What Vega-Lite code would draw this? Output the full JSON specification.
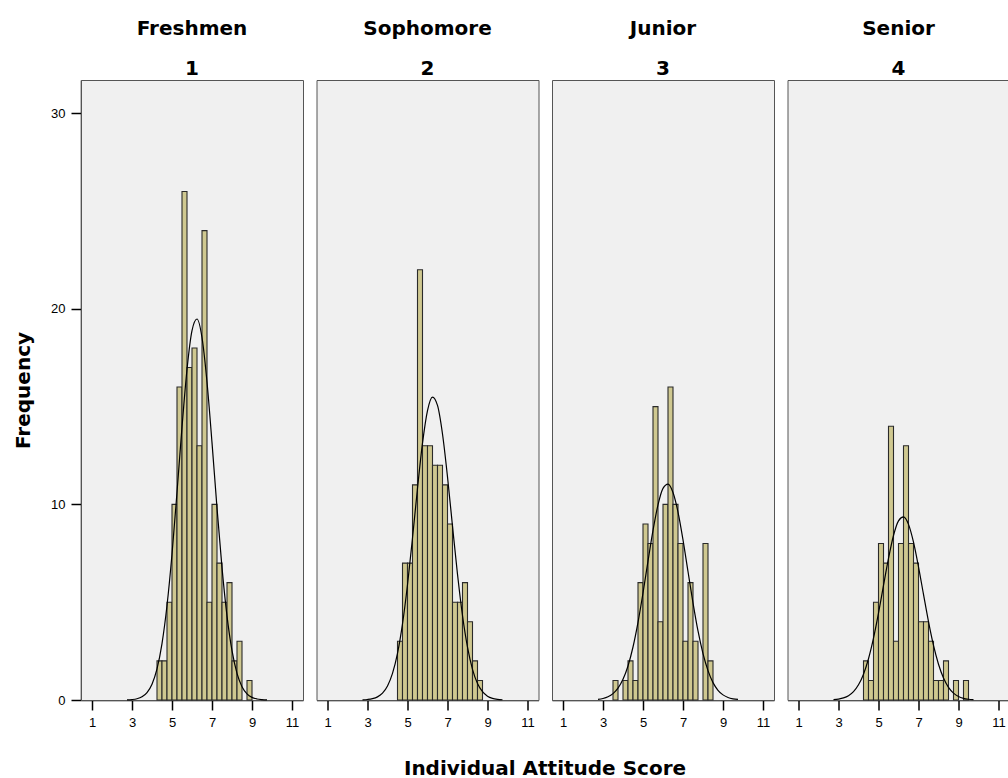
{
  "$schema": "https://vega.github.io/schema/vega-lite/v6.json",
  "padding": {"left": 13, "top": 19, "right": 0, "bottom": 0},
  "background": "white",
  "bounds": "flush",
  "data": {
    "values": [
      {"kind": "bar", "cls": "Freshmen|1", "lo": 4.25, "hi": 4.5, "n": 2},
      {"kind": "bar", "cls": "Freshmen|1", "lo": 4.5, "hi": 4.75, "n": 2},
      {"kind": "bar", "cls": "Freshmen|1", "lo": 4.75, "hi": 5.0, "n": 5},
      {"kind": "bar", "cls": "Freshmen|1", "lo": 5.0, "hi": 5.25, "n": 10},
      {"kind": "bar", "cls": "Freshmen|1", "lo": 5.25, "hi": 5.5, "n": 16},
      {"kind": "bar", "cls": "Freshmen|1", "lo": 5.5, "hi": 5.75, "n": 26},
      {"kind": "bar", "cls": "Freshmen|1", "lo": 5.75, "hi": 6.0, "n": 17},
      {"kind": "bar", "cls": "Freshmen|1", "lo": 6.0, "hi": 6.25, "n": 18},
      {"kind": "bar", "cls": "Freshmen|1", "lo": 6.25, "hi": 6.5, "n": 13},
      {"kind": "bar", "cls": "Freshmen|1", "lo": 6.5, "hi": 6.75, "n": 24},
      {"kind": "bar", "cls": "Freshmen|1", "lo": 6.75, "hi": 7.0, "n": 5},
      {"kind": "bar", "cls": "Freshmen|1", "lo": 7.0, "hi": 7.25, "n": 10},
      {"kind": "bar", "cls": "Freshmen|1", "lo": 7.25, "hi": 7.5, "n": 7},
      {"kind": "bar", "cls": "Freshmen|1", "lo": 7.5, "hi": 7.75, "n": 5},
      {"kind": "bar", "cls": "Freshmen|1", "lo": 7.75, "hi": 8.0, "n": 6},
      {"kind": "bar", "cls": "Freshmen|1", "lo": 8.0, "hi": 8.25, "n": 2},
      {"kind": "bar", "cls": "Freshmen|1", "lo": 8.25, "hi": 8.5, "n": 3},
      {"kind": "bar", "cls": "Freshmen|1", "lo": 8.75, "hi": 9.0, "n": 1},

      {"kind": "bar", "cls": "Sophomore|2", "lo": 4.5, "hi": 4.75, "n": 3},
      {"kind": "bar", "cls": "Sophomore|2", "lo": 4.75, "hi": 5.0, "n": 7},
      {"kind": "bar", "cls": "Sophomore|2", "lo": 5.0, "hi": 5.25, "n": 7},
      {"kind": "bar", "cls": "Sophomore|2", "lo": 5.25, "hi": 5.5, "n": 11},
      {"kind": "bar", "cls": "Sophomore|2", "lo": 5.5, "hi": 5.75, "n": 22},
      {"kind": "bar", "cls": "Sophomore|2", "lo": 5.75, "hi": 6.0, "n": 13},
      {"kind": "bar", "cls": "Sophomore|2", "lo": 6.0, "hi": 6.25, "n": 13},
      {"kind": "bar", "cls": "Sophomore|2", "lo": 6.25, "hi": 6.5, "n": 12},
      {"kind": "bar", "cls": "Sophomore|2", "lo": 6.5, "hi": 6.75, "n": 12},
      {"kind": "bar", "cls": "Sophomore|2", "lo": 6.75, "hi": 7.0, "n": 11},
      {"kind": "bar", "cls": "Sophomore|2", "lo": 7.0, "hi": 7.25, "n": 9},
      {"kind": "bar", "cls": "Sophomore|2", "lo": 7.25, "hi": 7.5, "n": 5},
      {"kind": "bar", "cls": "Sophomore|2", "lo": 7.5, "hi": 7.75, "n": 5},
      {"kind": "bar", "cls": "Sophomore|2", "lo": 7.75, "hi": 8.0, "n": 6},
      {"kind": "bar", "cls": "Sophomore|2", "lo": 8.0, "hi": 8.25, "n": 4},
      {"kind": "bar", "cls": "Sophomore|2", "lo": 8.25, "hi": 8.5, "n": 2},
      {"kind": "bar", "cls": "Sophomore|2", "lo": 8.5, "hi": 8.75, "n": 1},

      {"kind": "bar", "cls": "Junior|3", "lo": 3.5, "hi": 3.75, "n": 1},
      {"kind": "bar", "cls": "Junior|3", "lo": 4.0, "hi": 4.25, "n": 1},
      {"kind": "bar", "cls": "Junior|3", "lo": 4.25, "hi": 4.5, "n": 2},
      {"kind": "bar", "cls": "Junior|3", "lo": 4.5, "hi": 4.75, "n": 1},
      {"kind": "bar", "cls": "Junior|3", "lo": 4.75, "hi": 5.0, "n": 6},
      {"kind": "bar", "cls": "Junior|3", "lo": 5.0, "hi": 5.25, "n": 9},
      {"kind": "bar", "cls": "Junior|3", "lo": 5.25, "hi": 5.5, "n": 8},
      {"kind": "bar", "cls": "Junior|3", "lo": 5.5, "hi": 5.75, "n": 15},
      {"kind": "bar", "cls": "Junior|3", "lo": 5.75, "hi": 6.0, "n": 4},
      {"kind": "bar", "cls": "Junior|3", "lo": 6.0, "hi": 6.25, "n": 10},
      {"kind": "bar", "cls": "Junior|3", "lo": 6.25, "hi": 6.5, "n": 16},
      {"kind": "bar", "cls": "Junior|3", "lo": 6.5, "hi": 6.75, "n": 10},
      {"kind": "bar", "cls": "Junior|3", "lo": 6.75, "hi": 7.0, "n": 8},
      {"kind": "bar", "cls": "Junior|3", "lo": 7.0, "hi": 7.25, "n": 3},
      {"kind": "bar", "cls": "Junior|3", "lo": 7.25, "hi": 7.5, "n": 6},
      {"kind": "bar", "cls": "Junior|3", "lo": 7.5, "hi": 7.75, "n": 3},
      {"kind": "bar", "cls": "Junior|3", "lo": 8.0, "hi": 8.25, "n": 8},
      {"kind": "bar", "cls": "Junior|3", "lo": 8.25, "hi": 8.5, "n": 2},

      {"kind": "bar", "cls": "Senior|4", "lo": 4.25, "hi": 4.5, "n": 2},
      {"kind": "bar", "cls": "Senior|4", "lo": 4.5, "hi": 4.75, "n": 1},
      {"kind": "bar", "cls": "Senior|4", "lo": 4.75, "hi": 5.0, "n": 5},
      {"kind": "bar", "cls": "Senior|4", "lo": 5.0, "hi": 5.25, "n": 8},
      {"kind": "bar", "cls": "Senior|4", "lo": 5.25, "hi": 5.5, "n": 7},
      {"kind": "bar", "cls": "Senior|4", "lo": 5.5, "hi": 5.75, "n": 14},
      {"kind": "bar", "cls": "Senior|4", "lo": 5.75, "hi": 6.0, "n": 3},
      {"kind": "bar", "cls": "Senior|4", "lo": 6.0, "hi": 6.25, "n": 8},
      {"kind": "bar", "cls": "Senior|4", "lo": 6.25, "hi": 6.5, "n": 13},
      {"kind": "bar", "cls": "Senior|4", "lo": 6.5, "hi": 6.75, "n": 8},
      {"kind": "bar", "cls": "Senior|4", "lo": 6.75, "hi": 7.0, "n": 7},
      {"kind": "bar", "cls": "Senior|4", "lo": 7.0, "hi": 7.25, "n": 4},
      {"kind": "bar", "cls": "Senior|4", "lo": 7.25, "hi": 7.5, "n": 4},
      {"kind": "bar", "cls": "Senior|4", "lo": 7.5, "hi": 7.75, "n": 3},
      {"kind": "bar", "cls": "Senior|4", "lo": 7.75, "hi": 8.0, "n": 1},
      {"kind": "bar", "cls": "Senior|4", "lo": 8.0, "hi": 8.25, "n": 1},
      {"kind": "bar", "cls": "Senior|4", "lo": 8.25, "hi": 8.5, "n": 2},
      {"kind": "bar", "cls": "Senior|4", "lo": 8.75, "hi": 9.0, "n": 1},
      {"kind": "bar", "cls": "Senior|4", "lo": 9.25, "hi": 9.5, "n": 1},

      {"kind": "curve", "cls": "Freshmen|1", "x": 2.75, "y": 0.008},
      {"kind": "curve", "cls": "Freshmen|1", "x": 3.0, "y": 0.024},
      {"kind": "curve", "cls": "Freshmen|1", "x": 3.25, "y": 0.065},
      {"kind": "curve", "cls": "Freshmen|1", "x": 3.5, "y": 0.164},
      {"kind": "curve", "cls": "Freshmen|1", "x": 3.75, "y": 0.379},
      {"kind": "curve", "cls": "Freshmen|1", "x": 4.0, "y": 0.809},
      {"kind": "curve", "cls": "Freshmen|1", "x": 4.25, "y": 1.59},
      {"kind": "curve", "cls": "Freshmen|1", "x": 4.5, "y": 2.885},
      {"kind": "curve", "cls": "Freshmen|1", "x": 4.75, "y": 4.83},
      {"kind": "curve", "cls": "Freshmen|1", "x": 5.0, "y": 7.455},
      {"kind": "curve", "cls": "Freshmen|1", "x": 5.25, "y": 10.62},
      {"kind": "curve", "cls": "Freshmen|1", "x": 5.5, "y": 13.95},
      {"kind": "curve", "cls": "Freshmen|1", "x": 5.75, "y": 16.9},
      {"kind": "curve", "cls": "Freshmen|1", "x": 6.0, "y": 18.89},
      {"kind": "curve", "cls": "Freshmen|1", "x": 6.25, "y": 19.48},
      {"kind": "curve", "cls": "Freshmen|1", "x": 6.5, "y": 18.53},
      {"kind": "curve", "cls": "Freshmen|1", "x": 6.75, "y": 16.26},
      {"kind": "curve", "cls": "Freshmen|1", "x": 7.0, "y": 13.16},
      {"kind": "curve", "cls": "Freshmen|1", "x": 7.25, "y": 9.825},
      {"kind": "curve", "cls": "Freshmen|1", "x": 7.5, "y": 6.77},
      {"kind": "curve", "cls": "Freshmen|1", "x": 7.75, "y": 4.3},
      {"kind": "curve", "cls": "Freshmen|1", "x": 8.0, "y": 2.52},
      {"kind": "curve", "cls": "Freshmen|1", "x": 8.25, "y": 1.36},
      {"kind": "curve", "cls": "Freshmen|1", "x": 8.5, "y": 0.679},
      {"kind": "curve", "cls": "Freshmen|1", "x": 8.75, "y": 0.313},
      {"kind": "curve", "cls": "Freshmen|1", "x": 9.0, "y": 0.133},
      {"kind": "curve", "cls": "Freshmen|1", "x": 9.25, "y": 0.052},
      {"kind": "curve", "cls": "Freshmen|1", "x": 9.5, "y": 0.019},
      {"kind": "curve", "cls": "Freshmen|1", "x": 9.75, "y": 0.006},

      {"kind": "curve", "cls": "Sophomore|2", "x": 2.75, "y": 0.01},
      {"kind": "curve", "cls": "Sophomore|2", "x": 3.0, "y": 0.027},
      {"kind": "curve", "cls": "Sophomore|2", "x": 3.25, "y": 0.068},
      {"kind": "curve", "cls": "Sophomore|2", "x": 3.5, "y": 0.161},
      {"kind": "curve", "cls": "Sophomore|2", "x": 3.75, "y": 0.353},
      {"kind": "curve", "cls": "Sophomore|2", "x": 4.0, "y": 0.719},
      {"kind": "curve", "cls": "Sophomore|2", "x": 4.25, "y": 1.36},
      {"kind": "curve", "cls": "Sophomore|2", "x": 4.5, "y": 2.38},
      {"kind": "curve", "cls": "Sophomore|2", "x": 4.75, "y": 3.89},
      {"kind": "curve", "cls": "Sophomore|2", "x": 5.0, "y": 5.89},
      {"kind": "curve", "cls": "Sophomore|2", "x": 5.25, "y": 8.28},
      {"kind": "curve", "cls": "Sophomore|2", "x": 5.5, "y": 10.82},
      {"kind": "curve", "cls": "Sophomore|2", "x": 5.75, "y": 13.13},
      {"kind": "curve", "cls": "Sophomore|2", "x": 6.0, "y": 14.8},
      {"kind": "curve", "cls": "Sophomore|2", "x": 6.25, "y": 15.49},
      {"kind": "curve", "cls": "Sophomore|2", "x": 6.5, "y": 15.06},
      {"kind": "curve", "cls": "Sophomore|2", "x": 6.75, "y": 13.6},
      {"kind": "curve", "cls": "Sophomore|2", "x": 7.0, "y": 11.41},
      {"kind": "curve", "cls": "Sophomore|2", "x": 7.25, "y": 8.89},
      {"kind": "curve", "cls": "Sophomore|2", "x": 7.5, "y": 6.43},
      {"kind": "curve", "cls": "Sophomore|2", "x": 7.75, "y": 4.32},
      {"kind": "curve", "cls": "Sophomore|2", "x": 8.0, "y": 2.7},
      {"kind": "curve", "cls": "Sophomore|2", "x": 8.25, "y": 1.57},
      {"kind": "curve", "cls": "Sophomore|2", "x": 8.5, "y": 0.843},
      {"kind": "curve", "cls": "Sophomore|2", "x": 8.75, "y": 0.422},
      {"kind": "curve", "cls": "Sophomore|2", "x": 9.0, "y": 0.196},
      {"kind": "curve", "cls": "Sophomore|2", "x": 9.25, "y": 0.085},
      {"kind": "curve", "cls": "Sophomore|2", "x": 9.5, "y": 0.034},
      {"kind": "curve", "cls": "Sophomore|2", "x": 9.75, "y": 0.013},

      {"kind": "curve", "cls": "Junior|3", "x": 2.75, "y": 0.035},
      {"kind": "curve", "cls": "Junior|3", "x": 3.0, "y": 0.078},
      {"kind": "curve", "cls": "Junior|3", "x": 3.25, "y": 0.164},
      {"kind": "curve", "cls": "Junior|3", "x": 3.5, "y": 0.324},
      {"kind": "curve", "cls": "Junior|3", "x": 3.75, "y": 0.603},
      {"kind": "curve", "cls": "Junior|3", "x": 4.0, "y": 1.056},
      {"kind": "curve", "cls": "Junior|3", "x": 4.25, "y": 1.74},
      {"kind": "curve", "cls": "Junior|3", "x": 4.5, "y": 2.71},
      {"kind": "curve", "cls": "Junior|3", "x": 4.75, "y": 3.97},
      {"kind": "curve", "cls": "Junior|3", "x": 5.0, "y": 5.47},
      {"kind": "curve", "cls": "Junior|3", "x": 5.25, "y": 7.1},
      {"kind": "curve", "cls": "Junior|3", "x": 5.5, "y": 8.67},
      {"kind": "curve", "cls": "Junior|3", "x": 5.75, "y": 9.98},
      {"kind": "curve", "cls": "Junior|3", "x": 6.0, "y": 10.82},
      {"kind": "curve", "cls": "Junior|3", "x": 6.25, "y": 11.04},
      {"kind": "curve", "cls": "Junior|3", "x": 6.5, "y": 10.61},
      {"kind": "curve", "cls": "Junior|3", "x": 6.75, "y": 9.61},
      {"kind": "curve", "cls": "Junior|3", "x": 7.0, "y": 8.19},
      {"kind": "curve", "cls": "Junior|3", "x": 7.25, "y": 6.57},
      {"kind": "curve", "cls": "Junior|3", "x": 7.5, "y": 4.97},
      {"kind": "curve", "cls": "Junior|3", "x": 7.75, "y": 3.53},
      {"kind": "curve", "cls": "Junior|3", "x": 8.0, "y": 2.37},
      {"kind": "curve", "cls": "Junior|3", "x": 8.25, "y": 1.5},
      {"kind": "curve", "cls": "Junior|3", "x": 8.5, "y": 0.889},
      {"kind": "curve", "cls": "Junior|3", "x": 8.75, "y": 0.498},
      {"kind": "curve", "cls": "Junior|3", "x": 9.0, "y": 0.262},
      {"kind": "curve", "cls": "Junior|3", "x": 9.25, "y": 0.13},
      {"kind": "curve", "cls": "Junior|3", "x": 9.5, "y": 0.061},
      {"kind": "curve", "cls": "Junior|3", "x": 9.75, "y": 0.027},

      {"kind": "curve", "cls": "Senior|4", "x": 2.75, "y": 0.021},
      {"kind": "curve", "cls": "Senior|4", "x": 3.0, "y": 0.049},
      {"kind": "curve", "cls": "Senior|4", "x": 3.25, "y": 0.107},
      {"kind": "curve", "cls": "Senior|4", "x": 3.5, "y": 0.221},
      {"kind": "curve", "cls": "Senior|4", "x": 3.75, "y": 0.428},
      {"kind": "curve", "cls": "Senior|4", "x": 4.0, "y": 0.776},
      {"kind": "curve", "cls": "Senior|4", "x": 4.25, "y": 1.32},
      {"kind": "curve", "cls": "Senior|4", "x": 4.5, "y": 2.11},
      {"kind": "curve", "cls": "Senior|4", "x": 4.75, "y": 3.16},
      {"kind": "curve", "cls": "Senior|4", "x": 5.0, "y": 4.44},
      {"kind": "curve", "cls": "Senior|4", "x": 5.25, "y": 5.86},
      {"kind": "curve", "cls": "Senior|4", "x": 5.5, "y": 7.24},
      {"kind": "curve", "cls": "Senior|4", "x": 5.75, "y": 8.41},
      {"kind": "curve", "cls": "Senior|4", "x": 6.0, "y": 9.16},
      {"kind": "curve", "cls": "Senior|4", "x": 6.25, "y": 9.36},
      {"kind": "curve", "cls": "Senior|4", "x": 6.5, "y": 8.98},
      {"kind": "curve", "cls": "Senior|4", "x": 6.75, "y": 8.07},
      {"kind": "curve", "cls": "Senior|4", "x": 7.0, "y": 6.81},
      {"kind": "curve", "cls": "Senior|4", "x": 7.25, "y": 5.4},
      {"kind": "curve", "cls": "Senior|4", "x": 7.5, "y": 4.01},
      {"kind": "curve", "cls": "Senior|4", "x": 7.75, "y": 2.79},
      {"kind": "curve", "cls": "Senior|4", "x": 8.0, "y": 1.83},
      {"kind": "curve", "cls": "Senior|4", "x": 8.25, "y": 1.12},
      {"kind": "curve", "cls": "Senior|4", "x": 8.5, "y": 0.646},
      {"kind": "curve", "cls": "Senior|4", "x": 8.75, "y": 0.349},
      {"kind": "curve", "cls": "Senior|4", "x": 9.0, "y": 0.177},
      {"kind": "curve", "cls": "Senior|4", "x": 9.25, "y": 0.084},
      {"kind": "curve", "cls": "Senior|4", "x": 9.5, "y": 0.037},
      {"kind": "curve", "cls": "Senior|4", "x": 9.75, "y": 0.016}
    ]
  },
  "facet": {
    "column": {
      "field": "cls",
      "type": "nominal",
      "sort": ["Freshmen|1", "Sophomore|2", "Junior|3", "Senior|4"],
      "header": {
        "labelOrient": "top",
        "labelExpr": "split(datum.value, '|')",
        "labelFont": "DejaVu Sans",
        "labelFontSize": 20,
        "labelFontWeight": "bold",
        "labelColor": "black",
        "labelLineHeight": 40,
        "labelPadding": 1,
        "title": "Individual Attitude Score",
        "titleOrient": "bottom",
        "titleFont": "DejaVu Sans",
        "titleFontSize": 20,
        "titleFontWeight": "bold",
        "titleColor": "black",
        "titlePadding": 20
      }
    }
  },
  "spacing": 13.5,
  "spec": {
    "width": 222,
    "height": 620,
    "layer": [
      {
        "transform": [{"filter": "datum.kind === 'bar'"}],
        "mark": {"type": "rect", "fill": "#CFC890", "stroke": "#2A2A2A", "strokeWidth": 1.1},
        "encoding": {
          "x": {
            "field": "lo",
            "type": "quantitative",
            "scale": {"domain": [0.45, 11.55], "nice": false, "zero": false},
            "axis": {
              "title": null,
              "values": [1, 3, 5, 7, 9, 11],
              "grid": false,
              "domainColor": "black",
              "domainWidth": 1.5,
              "tickColor": "black",
              "tickSize": 10,
              "tickWidth": 1.5,
              "labelFont": "Liberation Sans",
              "labelFontSize": 13,
              "labelColor": "black",
              "labelPadding": 6
            }
          },
          "x2": {"field": "hi"},
          "y": {
            "field": "n",
            "type": "quantitative",
            "scale": {"domain": [0, 31.7], "nice": false},
            "axis": {
              "title": "Frequency",
              "values": [0, 10, 20, 30],
              "grid": false,
              "domainColor": "black",
              "domainWidth": 1.5,
              "tickColor": "black",
              "tickSize": 10,
              "tickWidth": 1.5,
              "labelFont": "Liberation Sans",
              "labelFontSize": 13,
              "labelColor": "black",
              "labelPadding": 6,
              "titleFont": "DejaVu Sans",
              "titleFontSize": 20,
              "titleFontWeight": "bold",
              "titleColor": "black",
              "titlePadding": 17
            }
          },
          "y2": {"datum": 0}
        }
      },
      {
        "transform": [{"filter": "datum.kind === 'curve'"}],
        "mark": {"type": "line", "color": "black", "strokeWidth": 1.2, "interpolate": "monotone"},
        "encoding": {
          "x": {"field": "x", "type": "quantitative"},
          "y": {"field": "y", "type": "quantitative"}
        }
      }
    ]
  },
  "config": {
    "view": {"fill": "#F0F0F0", "stroke": "#555555", "strokeWidth": 1}
  }
}
